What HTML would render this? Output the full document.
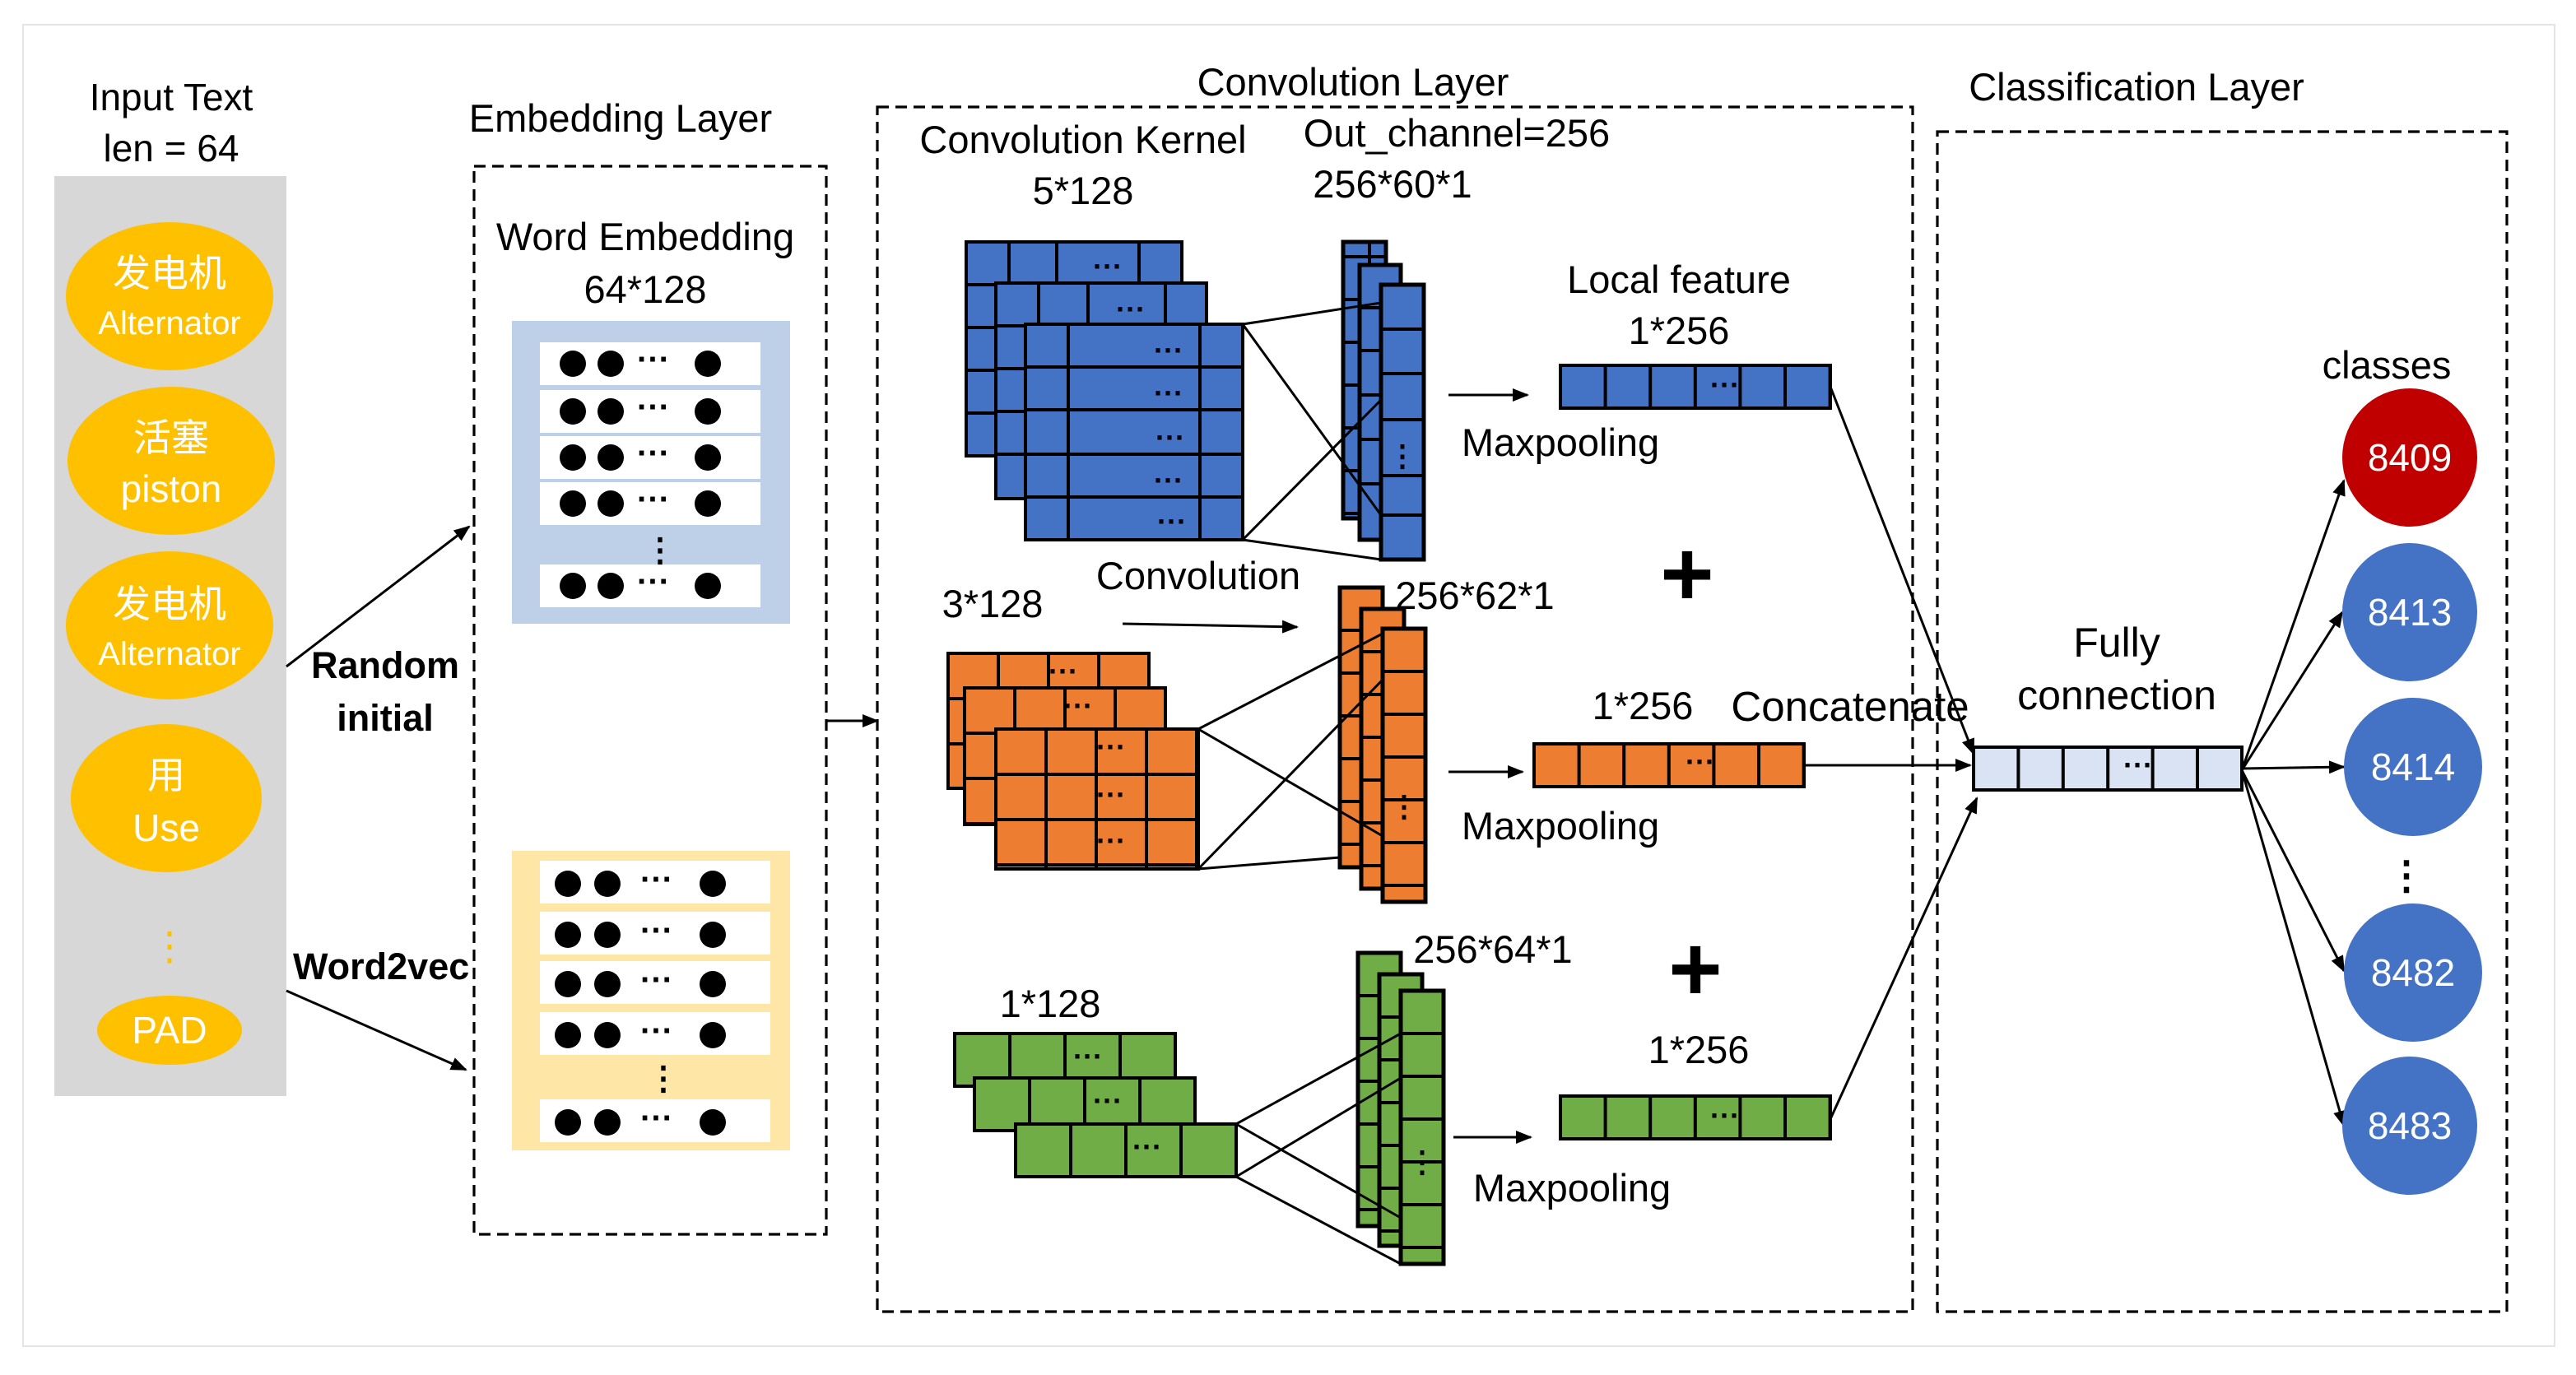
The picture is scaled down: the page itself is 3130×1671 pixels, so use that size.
<!DOCTYPE html>
<html><head><meta charset="utf-8"><style>
html,body{margin:0;padding:0;background:#fff;}
svg{display:block;}
text{font-family:"Liberation Sans","Noto Sans CJK SC",sans-serif;}
</style></head><body>
<svg xmlns="http://www.w3.org/2000/svg" width="3130" height="1671" viewBox="0 0 1565 835.5">
<defs>
<marker id="ar" markerWidth="10" markerHeight="8" refX="9" refY="4" orient="auto" markerUnits="userSpaceOnUse"><path d="M0,0 L10,4 L0,8 z" fill="#000"/></marker>
<pattern id="pb" width="26" height="26" patternUnits="userSpaceOnUse"><rect width="26" height="26" fill="#4472c4" stroke="#000" stroke-width="2"/></pattern>
<pattern id="pbo" width="27.3" height="30" patternUnits="userSpaceOnUse"><rect width="27.3" height="30" fill="#4472c4" stroke="#000" stroke-width="2"/></pattern>
<pattern id="po" width="30.5" height="27.5" patternUnits="userSpaceOnUse"><rect width="30.5" height="27.5" fill="#ed7d31" stroke="#000" stroke-width="2"/></pattern>
<pattern id="pom" width="26" height="26" patternUnits="userSpaceOnUse"><rect width="26" height="26" fill="#ed7d31" stroke="#000" stroke-width="2"/></pattern>
<pattern id="poo" width="27.3" height="30" patternUnits="userSpaceOnUse"><rect width="27.3" height="30" fill="#ed7d31" stroke="#000" stroke-width="2"/></pattern>
<pattern id="pg" width="33.5" height="40" patternUnits="userSpaceOnUse"><rect width="33.5" height="40" fill="#70ad47" stroke="#000" stroke-width="2"/></pattern>
<pattern id="pgm" width="26" height="26" patternUnits="userSpaceOnUse"><rect width="26" height="26" fill="#70ad47" stroke="#000" stroke-width="2"/></pattern>
<pattern id="pgo" width="27.3" height="30" patternUnits="userSpaceOnUse"><rect width="27.3" height="30" fill="#70ad47" stroke="#000" stroke-width="2"/></pattern>
<pattern id="pf" width="27.2" height="30" patternUnits="userSpaceOnUse"><rect width="27.2" height="30" fill="#dae3f3" stroke="#000" stroke-width="2"/></pattern>
</defs>
<rect x="14" y="15" width="1538" height="803" fill="none" stroke="#e4e4e4" stroke-width="1"/>

<!-- Input -->
<text x="104" y="67" font-size="23" text-anchor="middle">Input Text</text>
<text x="104" y="98" font-size="23" text-anchor="middle">len = 64</text>
<rect x="33" y="107" width="141" height="559" fill="#d7d7d7"/>
<g fill="#ffc000">
<ellipse cx="103" cy="180" rx="63" ry="45"/>
<ellipse cx="104" cy="280" rx="63" ry="45"/>
<ellipse cx="103" cy="380" rx="63" ry="45"/>
<ellipse cx="101" cy="485" rx="58" ry="45"/>
<ellipse cx="103" cy="626" rx="44" ry="21"/>
</g>
<g fill="#fff" font-size="23" text-anchor="middle">
<text x="103" y="174">发电机</text><text x="103" y="203" font-size="20">Alternator</text>
<text x="104" y="274">活塞</text><text x="104" y="305">piston</text>
<text x="103" y="375">发电机</text><text x="103" y="404" font-size="20">Alternator</text>
<text x="101" y="479">用</text><text x="101" y="511">Use</text>
<text x="103" y="634">PAD</text>
</g>
<text x="103" y="583" font-size="24" fill="#ffc000" text-anchor="middle">⋮</text>

<line x1="174" y1="405" x2="285" y2="320" stroke="#000" stroke-width="1.5" marker-end="url(#ar)"/>
<line x1="174" y1="602" x2="283" y2="650" stroke="#000" stroke-width="1.5" marker-end="url(#ar)"/>
<text x="234" y="412" font-size="22.5" font-weight="bold" text-anchor="middle">Random</text>
<text x="234" y="444" font-size="22.5" font-weight="bold" text-anchor="middle">initial</text>
<text x="178" y="595" font-size="22.5" font-weight="bold">Word2vec</text>

<!-- Embedding -->
<text x="377" y="80" font-size="23.5" text-anchor="middle">Embedding Layer</text>
<rect x="288" y="101" width="214" height="649" fill="none" stroke="#000" stroke-width="1.6" stroke-dasharray="7,4"/>
<text x="392" y="152" font-size="23.5" text-anchor="middle">Word Embedding</text>
<text x="392" y="184" font-size="23.5" text-anchor="middle">64*128</text>
<rect x="311" y="195" width="169" height="184" fill="#bdd0e8"/>
<g id="rowb">
<rect x="328" y="208" width="134" height="26" fill="#fff"/>
<circle cx="348" cy="221" r="8"/><circle cx="371" cy="221" r="8"/><circle cx="430" cy="221" r="8"/>
<text x="397" y="225" font-size="20" font-weight="bold" text-anchor="middle">···</text>
</g>
<use href="#rowb" y="29"/><use href="#rowb" y="57"/><use href="#rowb" y="85"/><use href="#rowb" y="135"/>
<text x="401" y="341" font-size="20" font-weight="bold" text-anchor="middle">⋮</text>
<rect x="311" y="517" width="169" height="182" fill="#fde6a6"/>
<g id="rowy">
<rect x="328" y="523" width="140" height="26" fill="#fff"/>
<circle cx="345" cy="537" r="8"/><circle cx="369" cy="537" r="8"/><circle cx="433" cy="537" r="8"/>
<text x="399" y="541" font-size="20" font-weight="bold" text-anchor="middle">···</text>
</g>
<use href="#rowy" y="31"/><use href="#rowy" y="61"/><use href="#rowy" y="92"/><use href="#rowy" y="145"/>
<text x="403" y="662" font-size="20" font-weight="bold" text-anchor="middle">⋮</text>

<line x1="502" y1="438" x2="533" y2="438" stroke="#000" stroke-width="1.5" marker-end="url(#ar)"/>

<!-- Convolution -->
<text x="822" y="58" font-size="23.5" text-anchor="middle">Convolution Layer</text>
<rect x="533" y="65" width="629" height="732" fill="none" stroke="#000" stroke-width="1.6" stroke-dasharray="7,4"/>
<text x="658" y="93" font-size="23.5" text-anchor="middle">Convolution Kernel</text>
<text x="658" y="124" font-size="23.5" text-anchor="middle">5*128</text>
<text x="885" y="89" font-size="23.5" text-anchor="middle">Out_channel=256</text>
<text x="846" y="120" font-size="23.5" text-anchor="middle">256*60*1</text>

<!-- blue kernels -->
<g stroke="#000" stroke-width="2" fill="#4472c4">
<rect x="587" y="147" width="131" height="130"/>
<line x1="613" y1="147" x2="613" y2="277"/><line x1="642" y1="147" x2="642" y2="277"/><line x1="692" y1="147" x2="692" y2="277"/>
<line x1="587" y1="173" x2="718" y2="173"/><line x1="587" y1="199" x2="718" y2="199"/><line x1="587" y1="225" x2="718" y2="225"/><line x1="587" y1="251" x2="718" y2="251"/>
<rect x="605" y="172" width="128" height="131"/>
<line x1="631" y1="172" x2="631" y2="303"/><line x1="661" y1="172" x2="661" y2="303"/><line x1="708" y1="172" x2="708" y2="303"/>
<line x1="605" y1="198" x2="733" y2="198"/><line x1="605" y1="224" x2="733" y2="224"/><line x1="605" y1="250" x2="733" y2="250"/><line x1="605" y1="276" x2="733" y2="276"/>
<rect x="623" y="197" width="132" height="131"/>
<line x1="649" y1="197" x2="649" y2="328"/><line x1="729" y1="197" x2="729" y2="328"/>
<line x1="623" y1="223" x2="755" y2="223"/><line x1="623" y1="249" x2="755" y2="249"/><line x1="623" y1="276" x2="755" y2="276"/><line x1="623" y1="302" x2="755" y2="302"/>
</g>
<g font-size="18" font-weight="bold" text-anchor="middle">
<text x="673" y="168">···</text><text x="687" y="194">···</text>
<text x="710" y="219">···</text><text x="710" y="245">···</text><text x="711" y="272">···</text><text x="710" y="298">···</text><text x="712" y="323">···</text>
</g>
<rect x="816" y="147" width="26" height="168" fill="url(#pb)" stroke="#000" stroke-width="2.5"/>
<rect x="826" y="161" width="25" height="167" fill="#4472c4" stroke="#000" stroke-width="2.5"/>
<g stroke="#000" stroke-width="2"><line x1="826" y1="187" x2="851" y2="187"/><line x1="826" y1="213" x2="851" y2="213"/><line x1="826" y1="240" x2="851" y2="240"/><line x1="826" y1="267" x2="851" y2="267"/><line x1="826" y1="294" x2="851" y2="294"/></g>
<rect x="839" y="173" width="26" height="167" fill="#4472c4" stroke="#000" stroke-width="2.5"/>
<g stroke="#000" stroke-width="2"><line x1="839" y1="200" x2="865" y2="200"/><line x1="839" y1="227" x2="865" y2="227"/><line x1="839" y1="255" x2="865" y2="255"/><line x1="839" y1="289" x2="865" y2="289"/><line x1="839" y1="313" x2="865" y2="313"/></g>
<text x="852" y="283" font-size="18" font-weight="bold" text-anchor="middle">⋮</text>
<g stroke="#000" stroke-width="1.5">
<line x1="755" y1="197" x2="839" y2="184"/><line x1="755" y1="197" x2="839" y2="313"/>
<line x1="755" y1="328" x2="839" y2="243"/><line x1="755" y1="328" x2="839" y2="340"/>
</g>
<line x1="880" y1="240" x2="928" y2="240" stroke="#000" stroke-width="1.5" marker-end="url(#ar)"/>
<text x="1020" y="178" font-size="23.5" text-anchor="middle">Local feature</text>
<text x="1020" y="209" font-size="23.5" text-anchor="middle">1*256</text>
<g transform="translate(948,222)"><rect width="164" height="26" fill="url(#pbo)" stroke="#000" stroke-width="2"/></g>
<text x="1048" y="240" font-size="18" font-weight="bold" text-anchor="middle">···</text>
<text x="948" y="277" font-size="23.5" text-anchor="middle">Maxpooling</text>
<text x="1025" y="368" font-size="56" font-weight="bold" text-anchor="middle">+</text>

<!-- orange -->
<text x="603" y="375" font-size="23.5" text-anchor="middle">3*128</text>
<text x="728" y="358" font-size="23.5" text-anchor="middle">Convolution</text>
<line x1="682" y1="379" x2="788" y2="381" stroke="#000" stroke-width="1.5" marker-end="url(#ar)"/>
<g transform="translate(576,397)"><rect width="122" height="82" fill="url(#po)" stroke="#000" stroke-width="2"/></g>
<g transform="translate(586,418)"><rect width="122" height="83" fill="url(#po)" stroke="#000" stroke-width="2"/></g>
<g transform="translate(605,443)"><rect width="123" height="85" fill="url(#po)" stroke="#000" stroke-width="2"/></g>
<g font-size="18" font-weight="bold" text-anchor="middle">
<text x="646" y="414">···</text><text x="655" y="435">···</text>
<text x="675" y="460">···</text><text x="675" y="489">···</text><text x="675" y="517">···</text>
</g>
<g transform="translate(814,357)"><rect width="26" height="170" fill="url(#pom)" stroke="#000" stroke-width="2.5"/></g>
<g transform="translate(827,370)"><rect width="26" height="170" fill="url(#pom)" stroke="#000" stroke-width="2.5"/></g>
<g transform="translate(840,382)"><rect width="26" height="166" fill="url(#pom)" stroke="#000" stroke-width="2.5"/></g>
<text x="853" y="496" font-size="18" font-weight="bold" text-anchor="middle">⋮</text>
<text x="896" y="370" font-size="23.5" text-anchor="middle">256*62*1</text>
<g stroke="#000" stroke-width="1.5">
<line x1="728" y1="443" x2="840" y2="385"/><line x1="728" y1="443" x2="840" y2="508"/>
<line x1="728" y1="528" x2="840" y2="413"/><line x1="728" y1="528" x2="814" y2="521"/>
</g>
<line x1="880" y1="469" x2="925" y2="469" stroke="#000" stroke-width="1.5" marker-end="url(#ar)"/>
<g transform="translate(932,452)"><rect width="164" height="26" fill="url(#poo)" stroke="#000" stroke-width="2"/></g>
<text x="1033" y="469" font-size="18" font-weight="bold" text-anchor="middle">···</text>
<text x="998" y="437" font-size="23.5" text-anchor="middle">1*256</text>
<text x="1124" y="438" font-size="25.5" text-anchor="middle">Concatenate</text>
<text x="948" y="510" font-size="23.5" text-anchor="middle">Maxpooling</text>
<text x="1030" y="608" font-size="56" font-weight="bold" text-anchor="middle">+</text>

<!-- green -->
<text x="638" y="618" font-size="23.5" text-anchor="middle">1*128</text>
<g transform="translate(580,628)"><rect width="134" height="32" fill="url(#pg)" stroke="#000" stroke-width="2"/></g>
<g transform="translate(592,655)"><rect width="134" height="32" fill="url(#pg)" stroke="#000" stroke-width="2"/></g>
<g transform="translate(617,683)"><rect width="134" height="32" fill="url(#pg)" stroke="#000" stroke-width="2"/></g>
<g font-size="18" font-weight="bold" text-anchor="middle">
<text x="661" y="648">···</text><text x="673" y="675">···</text><text x="697" y="703">···</text>
</g>
<g transform="translate(825,579)"><rect width="26" height="166" fill="url(#pgm)" stroke="#000" stroke-width="2.5"/></g>
<g transform="translate(838,592)"><rect width="26" height="165" fill="url(#pgm)" stroke="#000" stroke-width="2.5"/></g>
<g transform="translate(851,602)"><rect width="26" height="166" fill="url(#pgm)" stroke="#000" stroke-width="2.5"/></g>
<text x="864" y="712" font-size="18" font-weight="bold" text-anchor="middle">⋮</text>
<text x="907" y="585" font-size="23.5" text-anchor="middle">256*64*1</text>
<g stroke="#000" stroke-width="1.5">
<line x1="751" y1="683" x2="851" y2="628"/><line x1="751" y1="683" x2="851" y2="740"/>
<line x1="751" y1="715" x2="851" y2="655"/><line x1="751" y1="715" x2="851" y2="768"/>
</g>
<line x1="883" y1="691" x2="930" y2="691" stroke="#000" stroke-width="1.5" marker-end="url(#ar)"/>
<g transform="translate(948,666)"><rect width="164" height="26" fill="url(#pgo)" stroke="#000" stroke-width="2"/></g>
<text x="1048" y="684" font-size="18" font-weight="bold" text-anchor="middle">···</text>
<text x="1032" y="646" font-size="23.5" text-anchor="middle">1*256</text>
<text x="955" y="730" font-size="23.5" text-anchor="middle">Maxpooling</text>

<!-- Classification -->
<text x="1298" y="61" font-size="23.5" text-anchor="middle">Classification Layer</text>
<rect x="1177" y="80" width="346" height="717" fill="none" stroke="#000" stroke-width="1.6" stroke-dasharray="7,4"/>
<text x="1286" y="399" font-size="25" text-anchor="middle">Fully</text>
<text x="1286" y="431" font-size="25" text-anchor="middle">connection</text>
<g transform="translate(1199,454)"><rect width="163" height="26" fill="url(#pf)" stroke="#000" stroke-width="2"/></g>
<text x="1299" y="471" font-size="18" font-weight="bold" text-anchor="middle">···</text>
<g stroke="#000" stroke-width="1.5" marker-end="url(#ar)">
<line x1="1112" y1="235" x2="1199" y2="458"/>
<line x1="1096" y1="465" x2="1197" y2="465"/>
<line x1="1112" y1="680" x2="1201" y2="485"/>
<line x1="1362" y1="468" x2="1424" y2="292"/>
<line x1="1362" y1="468" x2="1423" y2="372"/>
<line x1="1362" y1="467" x2="1424" y2="466"/>
<line x1="1362" y1="468" x2="1424" y2="590"/>
<line x1="1362" y1="468" x2="1424" y2="684"/>
</g>
<text x="1450" y="230" font-size="23.5" text-anchor="middle">classes</text>
<ellipse cx="1464" cy="278" rx="41" ry="42" fill="#c00000"/>
<ellipse cx="1464" cy="372" rx="41" ry="42" fill="#4472c4"/>
<ellipse cx="1466" cy="466" rx="42" ry="42" fill="#4472c4"/>
<ellipse cx="1466" cy="591" rx="42" ry="42" fill="#4472c4"/>
<ellipse cx="1464" cy="684" rx="41" ry="42" fill="#4472c4"/>
<g fill="#fff" font-size="23" text-anchor="middle">
<text x="1464" y="286">8409</text><text x="1464" y="380">8413</text><text x="1466" y="474">8414</text><text x="1466" y="599">8482</text><text x="1464" y="692">8483</text>
</g>
<text x="1462" y="540" font-size="24" font-weight="bold" text-anchor="middle">⋮</text>
</svg>
</body></html>
